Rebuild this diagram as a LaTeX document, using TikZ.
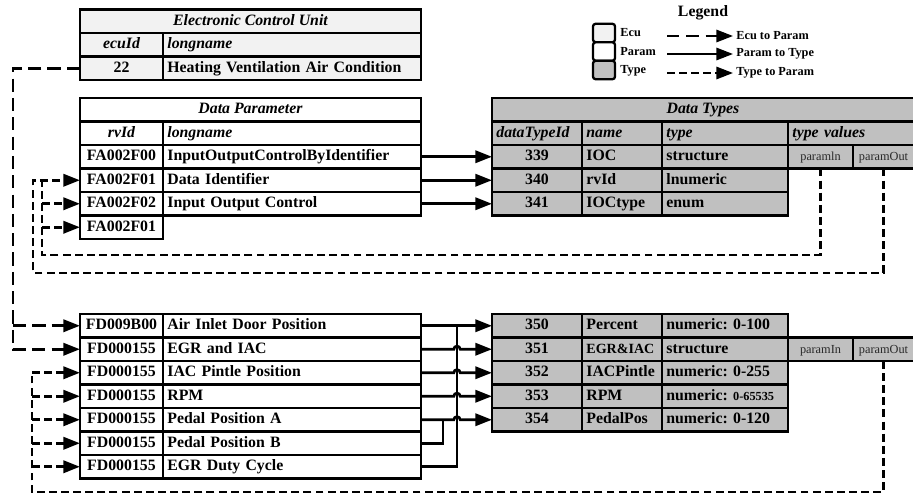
\documentclass[tikz,border=0pt]{standalone}
\usepackage{fontspec}
\setmainfont{Liberation Serif}
\usetikzlibrary{arrows.meta,calc}
\frenchspacing
\definecolor{ecugray}{RGB}{242,242,242}
\definecolor{typegray}{RGB}{192,192,192}
\definecolor{pargray}{RGB}{40,40,40}
\newcommand\tcell[7]{%
  \pgfmathsetlengthmacro\cw{(#4-#2)*0.02cm}%
  \pgfmathsetlengthmacro\ch{(#5-#3)*0.02cm}%
  \pgfmathsetlengthmacro\tw{(#4-#2)*0.02cm-5pt}%
  \node[cellbase,minimum width=\cw,minimum height=\ch,#6,anchor=north west] (#1) at (#2,#3) {#7};}
\begin{document}
\begin{tikzpicture}[x=0.02cm,y=-0.02cm,
  >={Triangle[length=9.5pt,width=7pt]},
  cellbase/.style={draw=black,line width=1.5pt,inner xsep=2.5pt,inner ysep=0pt,outer sep=0pt,
    text height=6.3pt,text depth=2pt,font=\fontsize{9}{10.5}\selectfont\bfseries},
  hdcell/.style={font=\fontsize{9}{10.5}\selectfont\bfseries\itshape},
  narrowc/.style={font=\fontsize{8}{9}\selectfont\bfseries,inner xsep=1.5pt},
  ecuc/.style={fill=ecugray}, parc/.style={fill=white}, typc/.style={fill=typegray},
  lcell/.style={align=left,text width=\tw},
  ccell/.style={align=center,inner xsep=0pt},
  smallc/.style={font=\fontsize{7}{8}\selectfont,text=pargray},
  solidconn/.style={line width=1.5pt},
  ecuconn/.style={line width=1.6pt,dash pattern=on 7.5pt off 3.5pt},
  typconn/.style={line width=1.6pt,dash pattern=on 4.5pt off 2.4pt},
  legbox/.style={draw,line width=1.3pt,rounded corners=1.5pt,minimum width=0.44cm,minimum height=0.37cm,inner sep=0pt},
  legtxt/.style={font=\fontsize{7}{8}\selectfont\bfseries,inner sep=0pt}]
\useasboundingbox (0,0) rectangle (913,494);
\clip (0,0) rectangle (913,494);

% Electronic Control Unit
\tcell{ecuh}{80}{9.5}{421}{33}{ecuc,ccell,hdcell}{Electronic Control Unit}
\tcell{ecuidh}{80}{33}{163}{56.5}{ecuc,ccell,hdcell}{ecuId}
\tcell{ecunh}{163}{33}{421}{56.5}{ecuc,lcell,hdcell}{longname}
\tcell{ecuid}{80}{56.5}{163}{80}{ecuc,ccell}{22}
\tcell{ecun}{163}{56.5}{421}{80}{ecuc,lcell}{Heating Ventilation Air Condition}

% Data Parameter (top)
\tcell{dph}{80}{98}{421}{121.5}{parc,ccell,hdcell}{Data Parameter}
\tcell{dpidh}{80}{121.5}{163}{145}{parc,ccell,hdcell}{rvId}
\tcell{dpnh}{163}{121.5}{421}{145}{parc,lcell,hdcell}{longname}
\tcell{p1i}{80}{145}{163}{168.5}{parc,ccell}{FA002F00}
\tcell{p1n}{163}{145}{421}{168.5}{parc,lcell}{InputOutputControlByIdentifier}
\tcell{p2i}{80}{168.5}{163}{192}{parc,ccell}{FA002F01}
\tcell{p2n}{163}{168.5}{421}{192}{parc,lcell}{Data Identifier}
\tcell{p3i}{80}{192}{163}{215.5}{parc,ccell}{FA002F02}
\tcell{p3n}{163}{192}{421}{215.5}{parc,lcell}{Input Output Control}
\tcell{p4i}{80}{215.5}{163}{239}{parc,ccell}{FA002F01}

% Data Types (top)
\tcell{dth}{492}{98}{914}{121.5}{typc,ccell,hdcell}{Data Types}
\tcell{dtidh}{492}{121.5}{582}{145}{typc,lcell,hdcell,inner xsep=1.5pt}{dataTypeId}
\tcell{dtnh}{582}{121.5}{662}{145}{typc,lcell,hdcell}{name}
\tcell{dtth}{662}{121.5}{788}{145}{typc,lcell,hdcell}{type}
\tcell{dtvh}{788}{121.5}{914}{145}{typc,lcell,hdcell}{type values}
\tcell{t1i}{492}{145}{582}{168.5}{typc,ccell}{339}
\tcell{t1n}{582}{145}{662}{168.5}{typc,lcell}{IOC}
\tcell{t1t}{662}{145}{788}{168.5}{typc,lcell}{structure}
\tcell{t1in}{788}{145}{853}{168.5}{typc,ccell,smallc}{paramln}
\tcell{t1out}{853}{145}{914}{168.5}{typc,ccell,smallc}{paramOut}
\tcell{t2i}{492}{168.5}{582}{192}{typc,ccell}{340}
\tcell{t2n}{582}{168.5}{662}{192}{typc,lcell}{rvId}
\tcell{t2t}{662}{168.5}{788}{192}{typc,lcell}{lnumeric}
\tcell{t3i}{492}{192}{582}{215.5}{typc,ccell}{341}
\tcell{t3n}{582}{192}{662}{215.5}{typc,lcell}{IOCtype}
\tcell{t3t}{662}{192}{788}{215.5}{typc,lcell}{enum}

% Data Parameter (bottom)
\tcell{q1i}{80}{314}{163}{337.5}{parc,ccell}{FD009B00}
\tcell{q1n}{163}{314}{421}{337.5}{parc,lcell}{Air Inlet Door Position}
\tcell{q2i}{80}{337.5}{163}{361}{parc,ccell}{FD000155}
\tcell{q2n}{163}{337.5}{421}{361}{parc,lcell}{EGR and IAC}
\tcell{q3i}{80}{361}{163}{384.5}{parc,ccell}{FD000155}
\tcell{q3n}{163}{361}{421}{384.5}{parc,lcell}{IAC Pintle Position}
\tcell{q4i}{80}{384.5}{163}{408}{parc,ccell}{FD000155}
\tcell{q4n}{163}{384.5}{421}{408}{parc,lcell}{RPM}
\tcell{q5i}{80}{408}{163}{431.5}{parc,ccell}{FD000155}
\tcell{q5n}{163}{408}{421}{431.5}{parc,lcell}{Pedal Position A}
\tcell{q6i}{80}{431.5}{163}{455}{parc,ccell}{FD000155}
\tcell{q6n}{163}{431.5}{421}{455}{parc,lcell}{Pedal Position B}
\tcell{q7i}{80}{455}{163}{478.5}{parc,ccell}{FD000155}
\tcell{q7n}{163}{455}{421}{478.5}{parc,lcell}{EGR Duty Cycle}

% Data Types (bottom)
\tcell{s1i}{492}{314}{582}{337.5}{typc,ccell}{350}
\tcell{s1n}{582}{314}{662}{337.5}{typc,lcell}{Percent}
\tcell{s1t}{662}{314}{788}{337.5}{typc,lcell}{numeric: 0-100}
\tcell{s2i}{492}{337.5}{582}{361}{typc,ccell}{351}
\tcell{s2n}{582}{337.5}{662}{361}{typc,lcell,narrowc}{EGR\&IAC}
\tcell{s2t}{662}{337.5}{788}{361}{typc,lcell}{structure}
\tcell{s2in}{788}{337.5}{853}{361}{typc,ccell,smallc}{paramIn}
\tcell{s2out}{853}{337.5}{914}{361}{typc,ccell,smallc}{paramOut}
\tcell{s3i}{492}{361}{582}{384.5}{typc,ccell}{352}
\tcell{s3n}{582}{361}{662}{384.5}{typc,lcell,inner xsep=1.5pt}{IACPintle}
\tcell{s3t}{662}{361}{788}{384.5}{typc,lcell}{numeric: 0-255}
\tcell{s4i}{492}{384.5}{582}{408}{typc,ccell}{353}
\tcell{s4n}{582}{384.5}{662}{408}{typc,lcell}{RPM}
\tcell{s4t}{662}{384.5}{788}{408}{typc,lcell}{numeric: {\fontsize{7}{8}\selectfont 0-65535}}
\tcell{s5i}{492}{408}{582}{431.5}{typc,ccell}{354}
\tcell{s5n}{582}{408}{662}{431.5}{typc,lcell}{PedalPos}
\tcell{s5t}{662}{408}{788}{431.5}{typc,lcell}{numeric: 0-120}

% Param to Type (top)
\draw[solidconn,->] (p1n.east) -- (t1i.west);
\draw[solidconn,->] (p2n.east) -- (t2i.west);
\draw[solidconn,->] (p3n.east) -- (t3i.west);

% Type to Param (top)
\coordinate (ia) at (42,255);
\coordinate (oa) at (33,273);
\draw[typconn] (t1in.south) |- (ia) -- (ia |- p2i.west);
\draw[typconn,->] (ia |- p3i.west) -- (p3i.west);
\draw[typconn,->] (ia |- p4i.west) -- (p4i.west);
\draw[typconn,->] (t1out.south) |- (oa) |- (p2i.west);

% Ecu to Param
\coordinate (ea) at (13,0);
\draw[ecuconn,->] (ecuid.west) -| (ea |- q2i.west) -- (q2i.west);
\draw[ecuconn,->] (ea |- q1i.west) -- (q1i.west);

% Param to Type (bottom)
\coordinate (hx) at (457,0);
\coordinate (jx) at (443,0);
\draw[solidconn] (q7n.east) -| (hx |- q1n.east);
\draw[solidconn] (q6n.east) -| (jx |- q5n.east);
\draw[solidconn,->] (q1n.east) -- (s1i.west);
\draw[solidconn,->] (q2n.east) -- ($(hx |- q2n.east)+(-1.8pt,0)$) arc[start angle=180,end angle=0,radius=1.8pt] -- (s2i.west);
\draw[solidconn,->] (q3n.east) -- ($(hx |- q3n.east)+(-1.8pt,0)$) arc[start angle=180,end angle=0,radius=1.8pt] -- (s3i.west);
\draw[solidconn,->] (q4n.east) -- ($(hx |- q4n.east)+(-1.8pt,0)$) arc[start angle=180,end angle=0,radius=1.8pt] -- (s4i.west);
\draw[solidconn,->] (q5n.east) -- ($(hx |- q5n.east)+(-1.8pt,0)$) arc[start angle=180,end angle=0,radius=1.8pt] -- (s5i.west);

% Type to Param (bottom)
\coordinate (ba) at (32,492);
\draw[typconn] (s2out.south) |- (ba) -- (ba |- q3i.west);
\foreach \r in {3,...,7}{\draw[typconn,->] (ba |- q\r i.west) -- (q\r i.west);}

% Legend
\node[font=\fontsize{9}{10}\selectfont\bfseries] (legt) at (703,13) {Legend};
\node[legbox,fill=ecugray] (lb1) at (604,33) {};
\node[legbox,fill=white] (lb2) at (604,51.5) {};
\node[legbox,fill=typegray] (lb3) at (604,70) {};
\node[legtxt,anchor=west] (ll1) at (620,33) {Ecu};
\node[legtxt,anchor=west] (ll2) at (620,52) {Param};
\node[legtxt,anchor=west] (ll3) at (620,71) {Type};
\coordinate (a1s) at (667,36); \coordinate (a1e) at (733,36);
\coordinate (a2s) at (667,54); \coordinate (a2e) at (733,54);
\coordinate (a3s) at (667,73); \coordinate (a3e) at (733,73);
\draw[ecuconn,line width=1.3pt,dash pattern=on 7pt off 4pt,->] (a1s) -- (a1e);
\draw[solidconn,line width=1.3pt,->] (a2s) -- (a2e);
\draw[typconn,line width=1.3pt,->] (a3s) -- (a3e);
\node[legtxt,anchor=west] (lt1) at (736,36) {Ecu to Param};
\node[legtxt,anchor=west] (lt2) at (736,54) {Param to Type};
\node[legtxt,anchor=west] (lt3) at (736,73) {Type to Param};
\end{tikzpicture}
\end{document}
